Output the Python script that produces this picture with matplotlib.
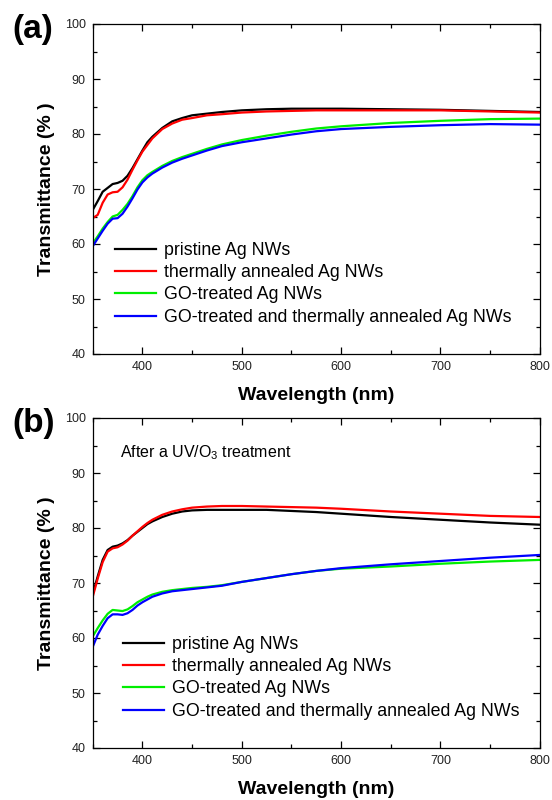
import matplotlib
matplotlib.use("Agg")
import matplotlib.pyplot as plt
from matplotlib.ticker import MultipleLocator

plt.rcParams['font.family'] = ['Liberation Sans', 'DejaVu Sans']
plt.rcParams['mathtext.fontset'] = 'custom'
plt.rcParams['mathtext.rm'] = 'Liberation Sans'

# wavelength points (nm)
wl = [350, 355, 360, 365, 370, 375, 380, 385, 390, 395, 400, 405, 410, 420,
      430, 440, 450, 465, 480, 500, 525, 550, 575, 600, 650, 700, 750, 800]

# panel (a)
a_pristine = [66.2, 67.8, 69.5, 70.2, 70.9, 71.1, 71.5, 72.4, 73.8, 75.4, 77.0, 78.5, 79.5, 81.1,
              82.3, 82.9, 83.4, 83.7, 84.0, 84.3, 84.5, 84.6, 84.6, 84.6, 84.5, 84.4, 84.2, 84.0]
a_annealed = [64.7, 65.3, 67.5, 69.0, 69.4, 69.5, 70.3, 71.7, 73.5, 75.2, 76.8, 78.0, 79.2, 80.9,
              81.9, 82.6, 82.9, 83.4, 83.6, 83.9, 84.1, 84.2, 84.3, 84.3, 84.3, 84.3, 84.1, 83.9]
a_go = [60.1, 61.4, 62.8, 64.0, 65.0, 65.3, 66.2, 67.3, 68.7, 70.3, 71.6, 72.5, 73.1, 74.2,
        75.1, 75.8, 76.4, 77.3, 78.1, 78.9, 79.7, 80.4, 81.0, 81.4, 82.0, 82.4, 82.7, 82.8]
a_go_ann = [59.6, 61.0, 62.4, 63.7, 64.6, 64.7, 65.5, 66.8, 68.3, 69.9, 71.2, 72.1, 72.8, 73.9,
            74.8, 75.5, 76.1, 77.0, 77.8, 78.5, 79.2, 79.9, 80.5, 80.9, 81.3, 81.6, 81.8, 81.7]

# panel (b), after UV/O3
b_pristine = [68.0, 71.2, 74.2, 76.0, 76.6, 76.8, 77.2, 77.8, 78.6, 79.3, 80.0, 80.7, 81.2, 82.0,
              82.6, 83.0, 83.2, 83.3, 83.3, 83.3, 83.3, 83.1, 82.9, 82.6, 82.0, 81.5, 81.0, 80.6]
b_annealed = [67.5, 70.8, 73.8, 75.7, 76.3, 76.5, 77.0, 77.7, 78.6, 79.4, 80.2, 80.9, 81.5, 82.4,
              83.0, 83.4, 83.7, 83.9, 84.0, 84.0, 83.9, 83.8, 83.7, 83.5, 83.0, 82.6, 82.2, 82.0]
b_go = [60.3, 61.8, 63.2, 64.4, 65.1, 65.0, 64.9, 65.2, 65.8, 66.5, 67.0, 67.5, 67.9, 68.4,
        68.7, 68.9, 69.1, 69.3, 69.6, 70.2, 70.9, 71.6, 72.2, 72.6, 73.0, 73.5, 73.9, 74.2]
b_go_ann = [58.4, 60.6, 62.2, 63.6, 64.3, 64.3, 64.2, 64.5, 65.1, 65.9, 66.5, 67.0, 67.5, 68.1,
            68.5, 68.7, 68.9, 69.2, 69.5, 70.2, 70.9, 71.6, 72.2, 72.7, 73.4, 74.0, 74.6, 75.1]

labels = ["pristine Ag NWs", "thermally annealed Ag NWs", "GO-treated Ag NWs",
          "GO-treated and thermally annealed Ag NWs"]
colors = ["black", "#ff0000", "#00ee00", "#0000ff"]

fig = plt.figure(figsize=(5.52, 8.0), dpi=100)
ax_a = fig.add_axes([0.168, 0.5575, 0.81, 0.4125])
ax_b = fig.add_axes([0.168, 0.065, 0.81, 0.4125])


def style(ax, series, leg_x, tag):
    for ys, c, lab in zip(series, colors, labels):
        ax.plot(wl, ys, color=c, lw=1.6, label=lab)
    ax.set_xlim(350, 800)
    ax.set_ylim(40, 100)
    ax.xaxis.set_major_locator(MultipleLocator(100))
    ax.xaxis.set_minor_locator(MultipleLocator(50))
    ax.yaxis.set_major_locator(MultipleLocator(10))
    ax.yaxis.set_minor_locator(MultipleLocator(5))
    ax.tick_params(which='both', direction='in', top=True, right=True, labelsize=9,
                   width=0.9, pad=5, labelcolor='#222222')
    ax.tick_params(which='major', length=5)
    ax.tick_params(which='minor', length=3)
    for sp in ax.spines.values():
        sp.set_linewidth(0.9)
    ax.set_xlabel("Wavelength (nm)", fontsize=14, fontweight='bold', labelpad=10)
    ax.set_ylabel("Transmittance (% )", fontsize=14, fontweight='bold', labelpad=7)
    ax.legend(loc='upper left', bbox_to_anchor=(leg_x, 0.34), frameon=False,
              fontsize=12.8, handlelength=2.3, handletextpad=0.45,
              borderpad=0, borderaxespad=0, labelspacing=0.3)
    ax.text(-0.18, 1.03, tag, transform=ax.transAxes, fontsize=24,
            fontweight='bold', ha='left', va='top')


style(ax_a, [a_pristine, a_annealed, a_go, a_go_ann], 0.049, "(a)")
style(ax_b, [b_pristine, b_annealed, b_go, b_go_ann], 0.067, "(b)")
ax_b.text(0.06, 0.894, "After a UV/O$_3$ treatment", transform=ax_b.transAxes,
          fontsize=11.5, ha='left', va='center')

fig.savefig("out.png", dpi=100)
